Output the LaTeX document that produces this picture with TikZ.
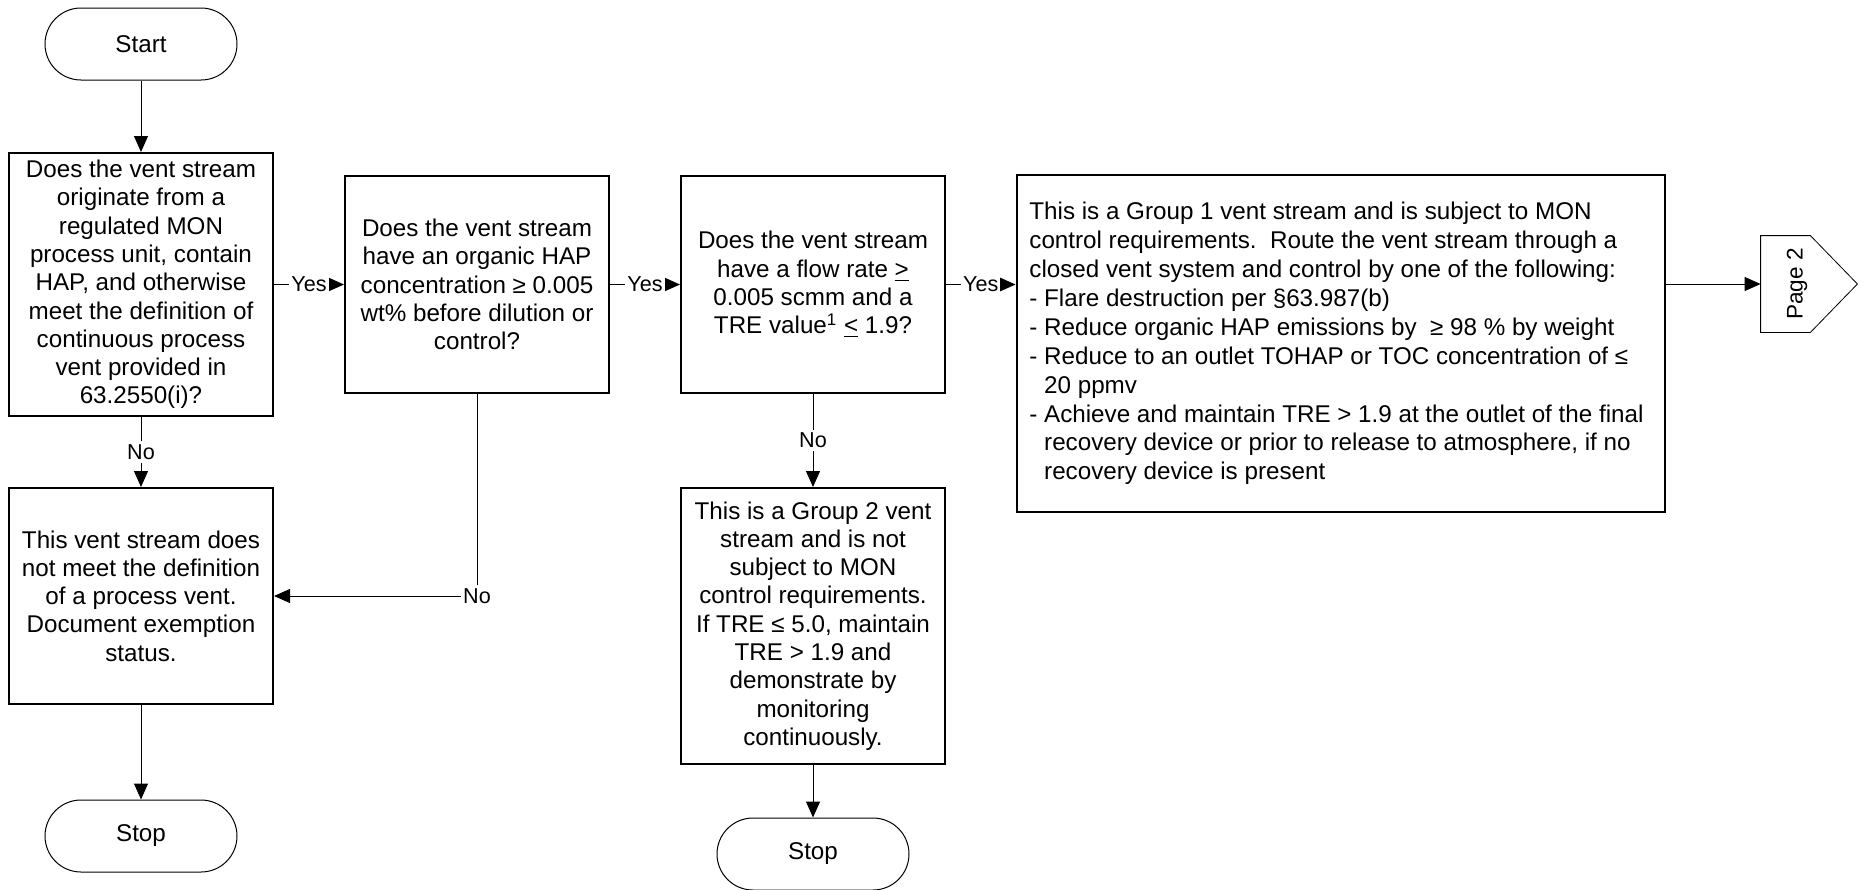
\documentclass[tikz,border=0pt]{standalone}
\usepackage{fontspec}
\setmainfont{Liberation Sans}
\usetikzlibrary{arrows.meta,calc}

\tikzset{
  boxtext/.style={font=\fontsize{12.1pt}{14.15pt}\selectfont},
  decision/.style={boxtext, draw, line width=1pt, rectangle, align=center,
    minimum width=132pt, inner sep=2pt},
  terminal/.style={boxtext, draw, line width=0.5pt, rectangle,
    rounded corners=18pt, minimum width=96pt, minimum height=36pt},
  arr/.style={line width=0.5pt, -{Triangle[length=8pt,width=7pt]}},
  lbl/.style={fill=white, inner xsep=1pt, inner ysep=1.5pt,
    font=\fontsize{10.8pt}{12pt}\selectfont},
}

\begin{document}
\begin{tikzpicture}[x=0.5pt, y=-0.5pt]
\useasboundingbox (0,0) rectangle (1868,889);

% left column
\node[terminal] (start) at (141,44) {Start};
\node[decision, minimum height=131.5pt] (q1) at (141,284.5)
  {Does the vent stream\\originate from a\\regulated MON\\process unit, contain\\HAP, and otherwise\\meet the definition of\\continuous process\\vent provided in\\63.2550(i)?};
\node[decision, minimum height=108pt] (exempt) at (141,596)
  {This vent stream does\\not meet the definition\\of a process vent.\\Document exemption\\status.};
\node[terminal] (stop1) at (141,836) {Stop};

% second decision
\node[decision, minimum height=108.5pt] (q2) at (477,284.5)
  {Does the vent stream\\have an organic HAP\\concentration ≥ 0.005\\wt\% before dilution or\\control?};

% third decision and Group 2 branch
\node[decision, minimum height=108.5pt] (q3) at (813,284.5)
  {Does the vent stream\\have a flow rate \underline{>}\\0.005 scmm and a\\TRE value\textsuperscript{1} \underline{<} 1.9?};
\node[decision, minimum height=138pt] (g2) at (813,626)
  {This is a Group 2 vent\\stream and is not\\subject to MON\\control requirements.\\If TRE ≤ 5.0, maintain\\TRE > 1.9 and\\demonstrate by\\monitoring\\continuously.};
\node[terminal] (stop2) at (813,854) {Stop};

% Group 1 requirements: frame plus left-aligned text block
\node[draw, line width=1pt, rectangle, minimum width=324pt, minimum height=168.5pt,
  inner sep=0pt] (g1) at (1340.5,343.5) {};
\node[font=\fontsize{12.1pt}{14.45pt}\selectfont, align=left, anchor=west, inner sep=0pt]
  (g1txt) at (1029,343.5)
  {This is a Group 1 vent stream and is subject to MON\\
   control requirements.\ \ Route the vent stream through a\\
   closed vent system and control by one of the following:\\
   - Flare destruction per §63.987(b)\\
   - Reduce organic HAP emissions by\ \ ≥ 98 \% by weight\\
   - Reduce to an outlet TOHAP or TOC concentration of ≤\\
   \hphantom{-}\ 20 ppmv\\
   - Achieve and maintain TRE > 1.9 at the outlet of the final\\
   \hphantom{-}\ recovery device or prior to release to atmosphere, if no\\
   \hphantom{-}\ recovery device is present};

% off-page connector
\node[rectangle, minimum width=24.5pt, minimum height=48pt, inner sep=0pt] (page) at (1785.5,284) {};
\draw[line width=0.4pt] (page.north west) -- (page.north east) -- ($(page.east)+(47,0)$)
  -- (page.south east) -- (page.south west) -- cycle;
\node[rotate=90, font=\fontsize{11.3pt}{13pt}\selectfont] (pagetxt) at (1797,284) {Page 2};

% connectors
\draw[arr] (start) -- (q1);
\draw[arr] (q1) -- node[lbl] {No} (exempt);
\draw[arr] (exempt) -- (stop1);
\draw[arr] (q1) -- node[lbl] {Yes} (q2);
\draw[arr] (q2.south) |- node[lbl, pos=0.5] {No} (exempt.east);
\draw[arr] (q2) -- node[lbl] {Yes} (q3);
\draw[arr] (q3.east) -- node[lbl] {Yes} (q3.east -| g1.west);
\draw[arr] (q3) -- node[lbl] {No} (g2);
\draw[arr] (g2) -- (stop2);
\draw[arr] (page.west -| g1.east) -- (page.west);

\end{tikzpicture}
\end{document}
